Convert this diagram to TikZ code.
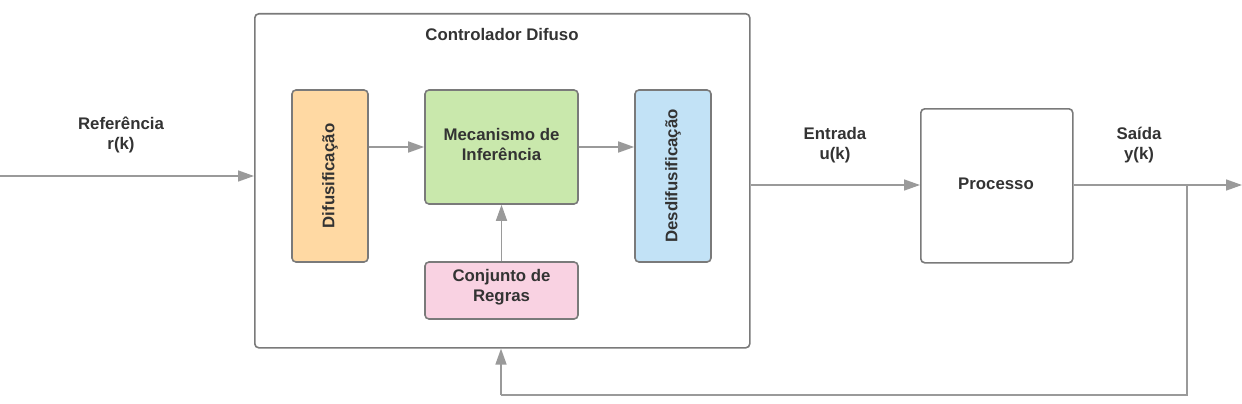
\documentclass[tikz,border=0pt]{standalone}
\usepackage{fontspec}
\setmainfont{Liberation Sans}
\usetikzlibrary{arrows.meta}
\definecolor{linec}{HTML}{9A9A9A}
\definecolor{borderc}{HTML}{7A7A7A}
\definecolor{txt}{HTML}{333333}
\definecolor{orangef}{HTML}{FFD9A3}
\definecolor{greenf}{HTML}{C9E8AC}
\definecolor{bluef}{HTML}{C2E2F6}
\definecolor{pinkf}{HTML}{F9D2E2}
\tikzset{
  blk/.style={draw=borderc, line width=1.6pt, rounded corners=4pt, inner sep=0pt},
  lbl/.style={text=txt, font=\fontsize{16.8}{20}\selectfont\bfseries, align=center},
  conn/.style={draw=linec, line width=1.6pt, -{Triangle[length=16pt,width=11pt]}},
  plain/.style={draw=linec, line width=1.6pt},
}
\begin{document}
\begin{tikzpicture}[x=1pt,y=-1pt]
\useasboundingbox (0,0) rectangle (1242,404);
% controller box
\node[blk, minimum width=495pt, minimum height=334pt, anchor=north west] (ctrl) at (254,13) {};
\node[lbl] (title) at (502,34) {Controlador Difuso};
% inner blocks
\node[blk, fill=orangef, minimum width=76pt, minimum height=172pt] (dif) at (330,176) {};
\node[lbl, rotate=90] (diftxt) at (330,176) {Difusificação};
\node[blk, fill=greenf, minimum width=153pt, minimum height=114pt] (mec) at (501.5,147) {};
\node[lbl] (mectxt) at (501.5,144) {Mecanismo de\\Inferência};
\node[blk, fill=bluef, minimum width=76pt, minimum height=172pt] (des) at (673,176) {};
\node[lbl, rotate=90] (destxt) at (673,176) {Desdifusificação};
\node[blk, fill=pinkf, minimum width=153pt, minimum height=57pt] (reg) at (501.5,290.5) {};
\node[lbl] (regtxt) at (501.5,287) {Conjunto de\\Regras};
% process
\node[blk, minimum width=152pt, minimum height=154pt, anchor=north west] (proc) at (920,108) {};
\node[lbl] (proctxt) at (996,184) {Processo};
% labels
\node[lbl] (ref) at (121,135) {Referência\\r(k)};
\node[lbl] (ent) at (835,145) {Entrada\\u(k)};
\node[lbl] (sai) at (1139,145) {Saída\\y(k)};
% coordinates
\coordinate (in) at (0,176);
\coordinate (out) at (1242,185);
\coordinate (br) at (1187,185);
\coordinate (fb1) at (1187,395);
\coordinate (fb2) at (501,395);
% connectors
\draw[conn] (in) -- (in -| ctrl.west);
\draw[conn] (dif.east |- 0,147) -- (mec.west |- 0,147);
\draw[conn] (mec.east |- 0,147) -- (des.west |- 0,147);
\draw[conn] (reg.north) -- (mec.south);
\draw[conn] (ctrl.east |- 0,185) -- (proc.west |- 0,185);
\draw[conn] (proc.east |- 0,185) -- (out);
\draw[plain] (br) -- (fb1) -- (fb2);
\draw[conn] (fb2) -- (fb2 |- ctrl.south);
\end{tikzpicture}
\end{document}
